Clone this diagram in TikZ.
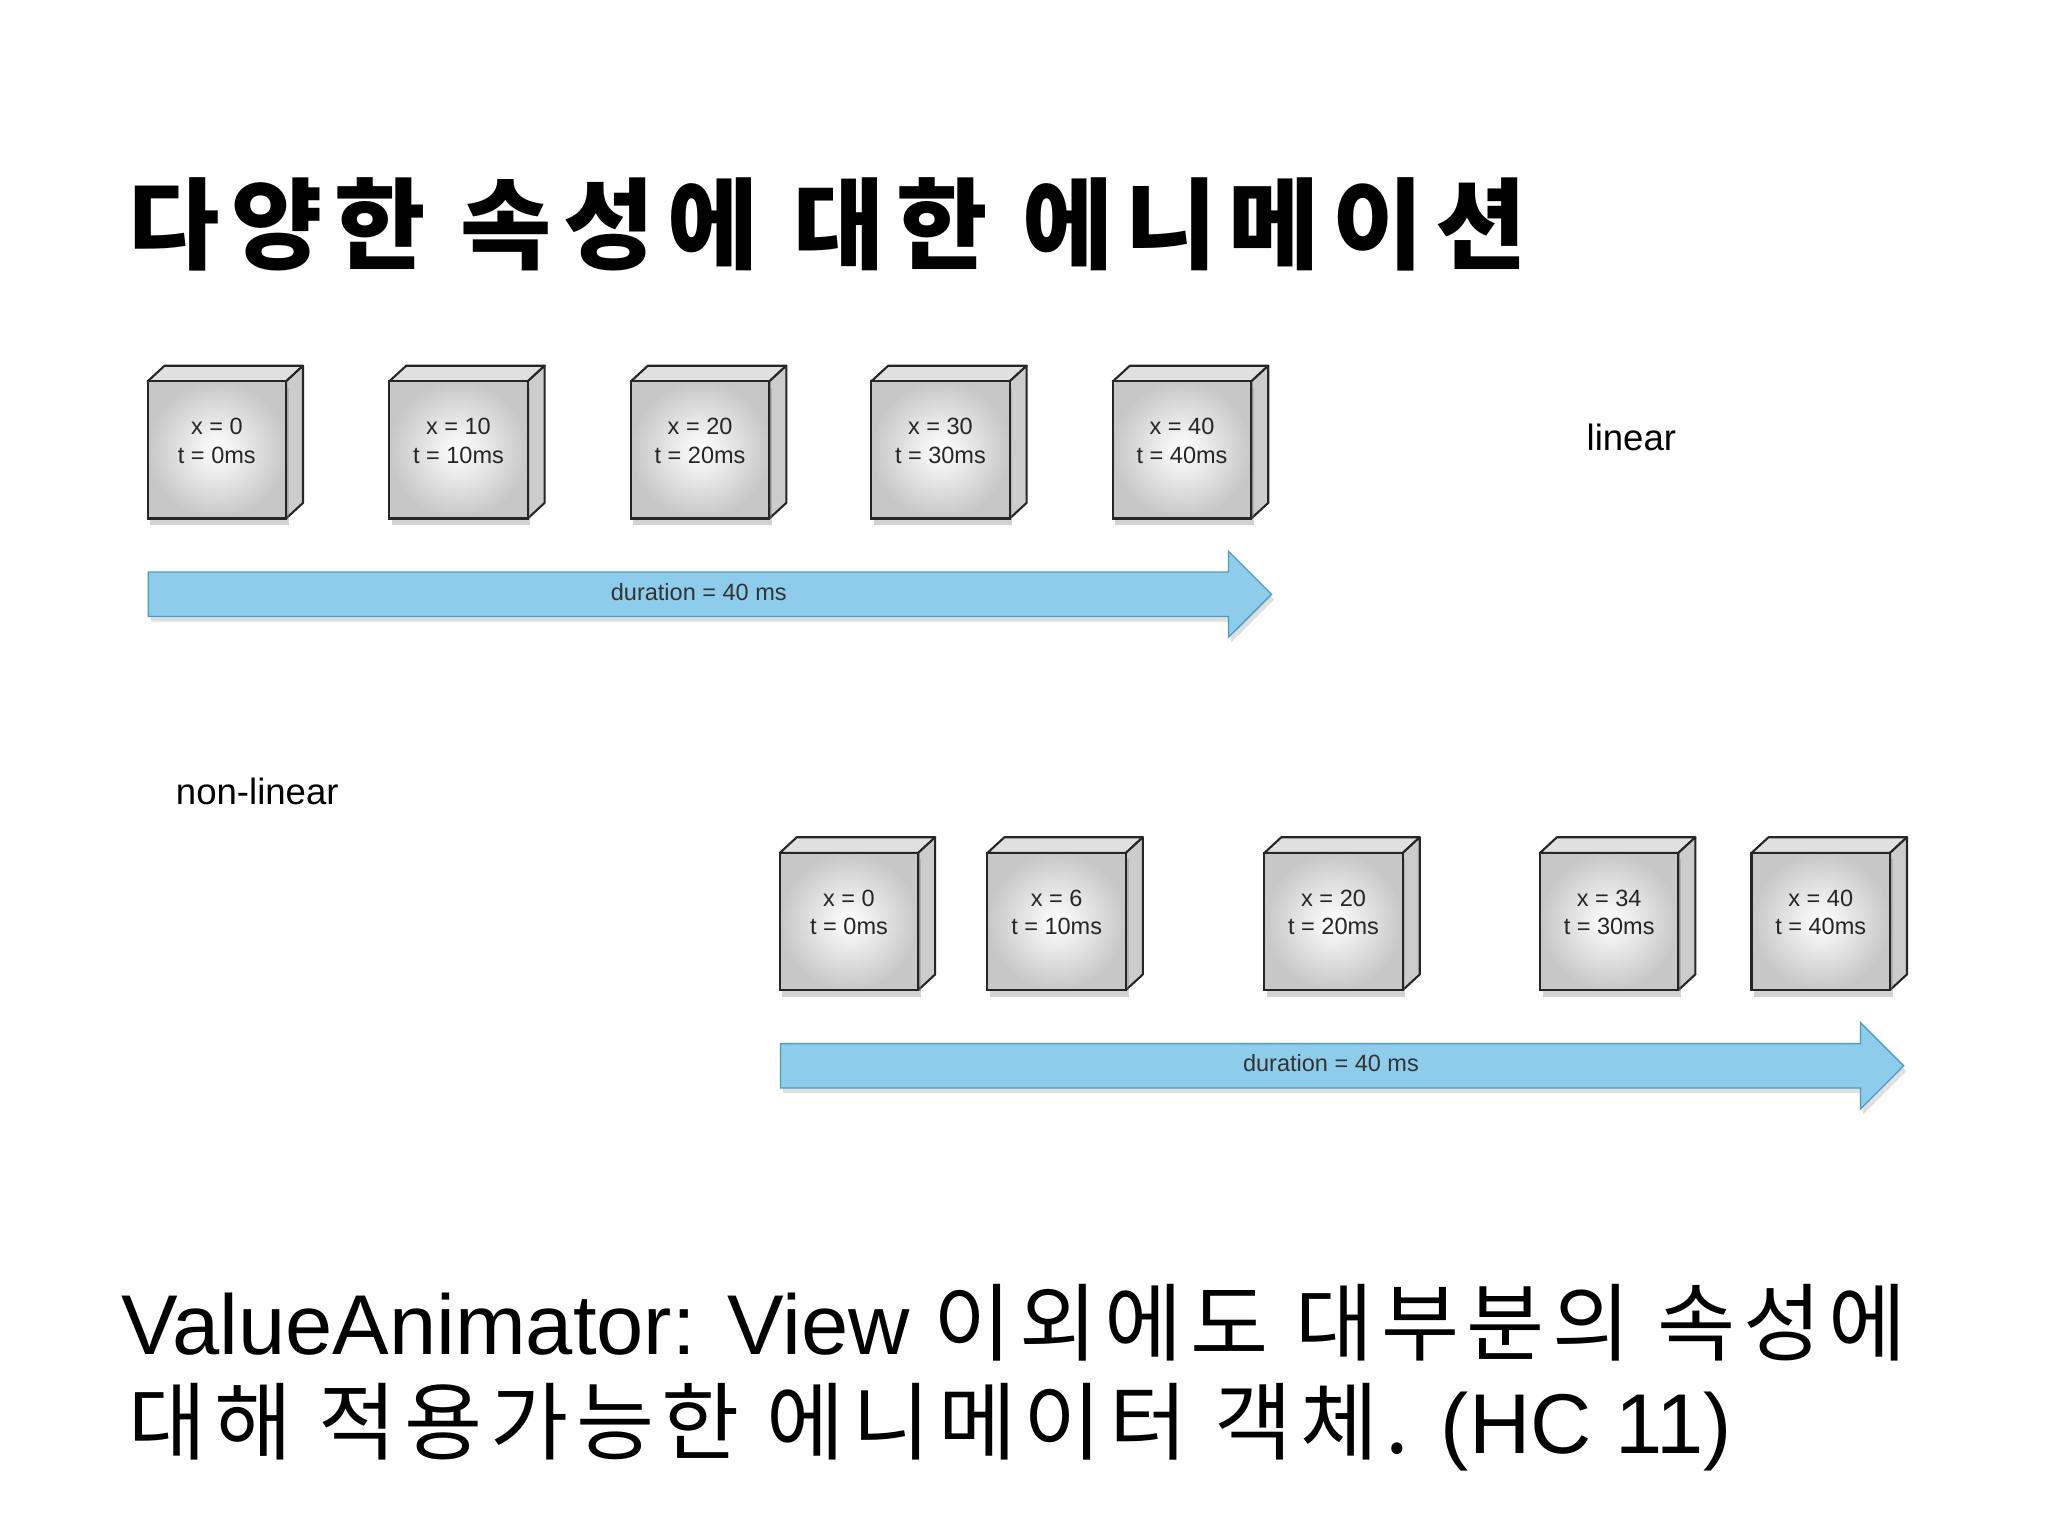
\documentclass[tikz,border=0pt]{standalone}
\usepackage{fontspec}
\setmainfont{Liberation Sans}
\newfontfamily\kr{Noto Sans CJK KR}
\newfontfamily\krt[LetterSpace=12]{Noto Sans CJK KR}
\newfontfamily\krb[LetterSpace=9]{Noto Sans CJK KR}
\usetikzlibrary{shapes.arrows,shadows}
\definecolor{arrfill}{HTML}{8DCDEB}
\definecolor{arrdraw}{HTML}{4A9CC4}
\tikzset{
  cube/.style={draw=black!85,line width=1.6pt,minimum width=106pt,minimum height=105pt,inner sep=0pt,
    shading=radial,inner color=white,outer color=black!22,
    drop shadow={shadow xshift=2pt,shadow yshift=-5pt,opacity=0.35}},
  cubetxt/.style={align=center,inner sep=0pt,font=\fontsize{18}{22}\selectfont,text=black!85},
  side/.style={draw=black!85,line width=1.6pt,fill=black!20,line join=round},
  topf/.style={draw=black!85,line width=1.6pt,fill=black!12,line join=round},
  darr/.style={single arrow,draw=arrdraw,fill=arrfill,line width=1pt,
    single arrow head extend=16pt,single arrow head indent=0pt,
    text height=13pt,text depth=4pt,inner xsep=0pt,inner ysep=8pt,
    minimum height=860pt,font=\fontsize{18}{20}\selectfont,text=black!80,
    drop shadow={shadow xshift=2pt,shadow yshift=-4pt,opacity=0.25}},
}
\newcommand{\cubeat}[4]{%
  \path (#1,#2) coordinate (#3-c);
  \draw[topf] (#3-c)++(-53,-52.5) -- ++(13,-12) -- ++(106,0) -- ++(-13,12) -- cycle;
  \draw[side] (#3-c)++(53,-52.5) -- ++(13,-12) -- ++(0,105) -- ++(-13,12) -- cycle;
  \node[cube] (#3) at (#3-c) {};
  \node[cubetxt] (#3-t) at ([yshift=7pt]#3.center) {#4};
}
\begin{document}
\begin{tikzpicture}[x=1pt,y=-1pt]
\useasboundingbox (0,0) rectangle (1568,1176);
\fill[white] (0,0) rectangle (1568,1176);
\node[anchor=base west,inner sep=0pt,font=\krt\bfseries\fontsize{76}{80}\selectfont] (title) at (98,200) {다양한 속성에 대한 에니메이션};
\cubeat{166}{344.5}{a1}{x = 0\\t = 0ms}
\cubeat{351}{344.5}{a2}{x = 10\\t = 10ms}
\cubeat{536}{344.5}{a3}{x = 20\\t = 20ms}
\cubeat{720}{344.5}{a4}{x = 30\\t = 30ms}
\cubeat{905}{344.5}{a5}{x = 40\\t = 40ms}
\node[darr] (d1) at (535,455) {duration = 40 ms};
\node[font=\fontsize{28}{30}\selectfont] (lin) at (1249,335) {linear};
\node[font=\fontsize{28}{30}\selectfont] (nlin) at (197,606) {non-linear};
\cubeat{650}{705.5}{b1}{x = 0\\t = 0ms}
\cubeat{809}{705.5}{b2}{x = 6\\t = 10ms}
\cubeat{1021}{705.5}{b3}{x = 20\\t = 20ms}
\cubeat{1232}{705.5}{b4}{x = 34\\t = 30ms}
\cubeat{1394}{705.5}{b5}{x = 40\\t = 40ms}
\node[darr] (d2) at (1019,816) {duration = 40 ms};
\node[anchor=base west,inner sep=0pt,font=\fontsize{65}{68}\selectfont] (l1) at (93,1037) {ValueAnimator: View {\krb 이외에도 대부분의 속성에}};
\node[anchor=base west,inner sep=0pt,font=\fontsize{65}{68}\selectfont] (l2) at (98,1113) {{\krb 대해 적용가능한 에니메이터 객체.} (HC 11)};
\end{tikzpicture}
\end{document}
